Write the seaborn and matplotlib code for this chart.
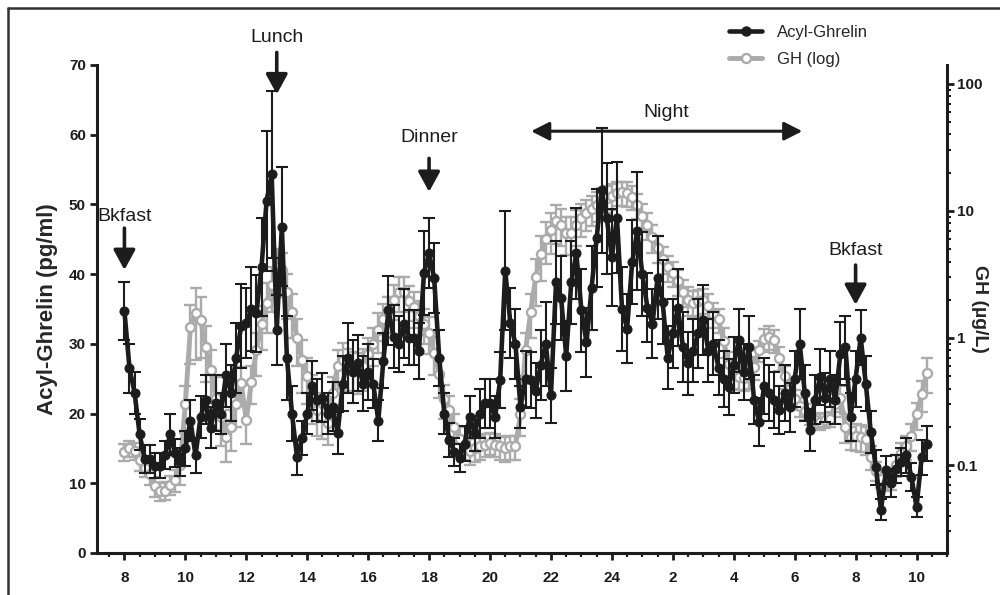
import numpy as np
import pandas as pd
import matplotlib
matplotlib.use("Agg")
import matplotlib.pyplot as plt
import seaborn as sns
from matplotlib.lines import Line2D
from matplotlib.ticker import FixedLocator, MultipleLocator, LogLocator, NullFormatter

# sampling grid: every 10 min from 08:00 (hours since midnight of day 1)
minutes = np.arange(0, 1590, 10)
hours = 8 + minutes / 60

ghrelin = [34.7, 26.5, 23.0, 17.0, 13.5, 13.5, 12.5, 12.5, 14.0, 17.0,
           14.3, 13.0, 15.0, 19.0, 14.0, 19.5, 22.0, 18.0, 21.5, 20.0,
           25.5, 23.0, 28.0, 32.6, 33.0, 35.0, 34.4, 41.0, 50.5, 54.3,
           32.0, 46.8, 28.0, 20.0, 13.7, 16.5, 20.0, 24.0, 22.0, 22.3,
           20.0, 21.0, 17.2, 24.3, 28.0, 26.0, 27.2, 24.3, 26.0, 24.3,
           19.0, 27.6, 34.8, 31.0, 30.0, 32.9, 30.9, 30.9, 29.0, 40.2,
           43.0, 39.4, 28.0, 20.0, 16.2, 14.5, 13.6, 15.7, 19.5, 17.2,
           20.0, 21.5, 21.5, 19.5, 24.8, 40.5, 33.0, 30.0, 21.0, 25.0,
           24.8, 23.3, 27.0, 30.0, 22.6, 38.8, 36.6, 28.3, 38.8, 43.0,
           34.8, 30.2, 38.0, 45.2, 52.0, 48.0, 42.4, 48.1, 35.0, 32.2,
           41.7, 46.2, 40.0, 35.2, 32.9, 39.5, 36.0, 28.0, 31.5, 35.2,
           29.5, 27.2, 29.0, 31.5, 33.4, 29.0, 30.0, 26.6, 25.0, 23.8,
           27.0, 30.5, 26.0, 29.5, 22.0, 18.8, 24.0, 22.9, 22.0, 20.5,
           23.0, 20.9, 25.0, 30.0, 22.9, 17.6, 22.0, 25.2, 22.3, 25.0,
           22.0, 28.6, 29.5, 19.5, 25.0, 30.9, 24.3, 17.3, 12.3, 6.2,
           11.9, 10.0, 12.0, 13.0, 14.0, 10.9, 6.6, 13.7, 15.7]

ghrelin_sem = [4.2, 3.5, 3.0, 2.2, 2.0, 2.0, 1.8, 1.8, 2.0, 3.0,
               2.0, 2.0, 2.5, 3.0, 2.5, 3.0, 3.5, 3.0, 4.0, 3.0,
               4.5, 4.0, 5.0, 6.0, 5.0, 6.0, 5.5, 7.0, 10.0, 12.0,
               5.0, 8.5, 6.0, 4.0, 2.5, 2.5, 3.0, 3.5, 3.0, 3.5,
               3.0, 3.5, 3.0, 4.0, 5.0, 4.5, 4.0, 4.0, 4.0, 3.5,
               3.0, 4.0, 5.0, 4.5, 4.0, 5.0, 4.0, 4.0, 4.0, 6.0,
               5.0, 5.0, 4.0, 3.0, 2.5, 2.0, 2.0, 2.5, 3.0, 2.5,
               3.5, 3.5, 3.5, 3.0, 4.0, 8.5, 5.0, 5.0, 3.0, 4.0,
               4.0, 4.0, 5.0, 6.0, 4.0, 6.0, 6.0, 5.0, 6.0, 6.5,
               6.0, 5.0, 6.0, 7.0, 9.0, 8.0, 7.0, 8.0, 6.0, 5.0,
               6.0, 8.5, 6.0, 5.0, 5.0, 6.0, 6.0, 4.5, 5.0, 5.5,
               5.0, 4.5, 4.5, 5.0, 5.0, 4.5, 4.5, 4.0, 4.0, 4.0,
               4.0, 4.5, 4.0, 4.5, 3.5, 3.5, 4.0, 4.0, 4.0, 3.5,
               4.0, 3.5, 4.0, 5.0, 4.0, 3.0, 3.5, 4.0, 3.5, 4.0,
               3.5, 4.5, 4.5, 3.5, 4.0, 4.0, 4.0, 3.0, 2.5, 1.5,
               2.0, 2.0, 2.0, 2.0, 2.5, 2.0, 1.5, 2.5, 2.5]

gh = [0.127, 0.135, 0.13, 0.109, 0.095, 0.085, 0.068, 0.062, 0.063, 0.07,
      0.076, 0.1, 0.3, 1.22, 1.57, 1.39, 0.85, 0.56, 0.34, 0.24,
      0.166, 0.2, 0.3, 0.44, 0.226, 0.45, 0.8, 1.3, 1.9, 2.6,
      3.62, 3.4, 2.3, 1.6, 1.0, 0.67, 0.5, 0.36, 0.27, 0.24,
      0.214, 0.37, 0.6, 0.67, 0.6, 0.58, 0.56, 0.6, 0.75, 0.9,
      1.16, 1.4, 1.6, 1.99, 2.3, 2.3, 1.95, 1.75, 1.5, 1.3,
      1.1, 0.76, 0.52, 0.33, 0.27, 0.2, 0.16, 0.14, 0.13, 0.135,
      0.14, 0.145, 0.149, 0.145, 0.14, 0.135, 0.14, 0.14, 0.25, 0.8,
      1.6, 3.0, 4.6, 6.0, 7.1, 8.3, 7.8, 6.7, 6.7, 7.7,
      8.8, 9.6, 10.4, 11.2, 12.2, 12.6, 13.2, 13.9, 14.0, 13.8,
      12.9, 11.2, 9.2, 7.8, 6.2, 5.1, 4.2, 3.6, 3.25, 2.8,
      2.3, 2.0, 1.9, 1.95, 1.99, 1.8, 1.55, 1.4, 0.95, 0.62,
      0.52, 0.49, 0.48, 0.5, 0.59, 0.8, 0.98, 1.02, 0.96, 0.7,
      0.5, 0.4, 0.33, 0.29, 0.265, 0.24, 0.226, 0.22, 0.225, 0.23,
      0.3, 0.34, 0.2, 0.166, 0.17, 0.166, 0.16, 0.116, 0.09, 0.078,
      0.072, 0.076, 0.1, 0.125, 0.14, 0.17, 0.25, 0.36, 0.53]

gh_sem = [0.02, 0.02, 0.02, 0.02, 0.015, 0.015, 0.012, 0.01, 0.01, 0.012,
          0.015, 0.03, 0.12, 0.6, 0.9, 0.7, 0.4, 0.25, 0.15, 0.1,
          0.06, 0.07, 0.1, 0.15, 0.08, 0.15, 0.3, 0.5, 0.8, 1.0,
          1.4, 1.3, 0.9, 0.6, 0.4, 0.3, 0.2, 0.15, 0.1, 0.08,
          0.07, 0.12, 0.2, 0.25, 0.22, 0.2, 0.2, 0.22, 0.25, 0.3,
          0.4, 0.45, 0.5, 0.6, 0.7, 0.7, 0.6, 0.55, 0.45, 0.4,
          0.35, 0.25, 0.18, 0.1, 0.08, 0.05, 0.04, 0.03, 0.03, 0.03,
          0.03, 0.03, 0.03, 0.03, 0.03, 0.03, 0.03, 0.03, 0.08, 0.3,
          0.6, 1.2, 1.8, 2.2, 2.5, 2.8, 2.5, 2.2, 2.2, 2.4,
          2.6, 2.7, 2.8, 3.0, 3.0, 3.0, 3.0, 3.0, 3.0, 3.0,
          2.8, 2.5, 2.2, 1.9, 1.5, 1.2, 1.0, 0.85, 0.75, 0.65,
          0.55, 0.5, 0.45, 0.45, 0.45, 0.4, 0.35, 0.3, 0.25, 0.15,
          0.12, 0.1, 0.1, 0.1, 0.12, 0.15, 0.2, 0.22, 0.2, 0.15,
          0.1, 0.08, 0.06, 0.05, 0.04, 0.035, 0.03, 0.03, 0.03, 0.03,
          0.06, 0.08, 0.05, 0.035, 0.04, 0.04, 0.04, 0.025, 0.015, 0.012,
          0.01, 0.012, 0.02, 0.025, 0.03, 0.04, 0.06, 0.1, 0.16]

hour_ticks = [8, 10, 12, 14, 16, 18, 20, 22, 24, 26, 28, 30, 32, 34]
hour_labels = ["8", "10", "12", "14", "16", "18", "20", "22", "24",
               "2", "4", "6", "8", "10"]

BLACK = "#1c1c1c"
GREY = "#ababab"

sns.set_style("ticks")
plt.rcParams['font.family'] = ['Liberation Sans', 'DejaVu Sans']

df_ghr = pd.DataFrame({"time": hours, "value": ghrelin, "sem": ghrelin_sem})
df_gh = pd.DataFrame({"time": hours, "value": gh, "sem": gh_sem})

fig = plt.figure(figsize=(10, 5.95), dpi=100)
ax = fig.add_axes([0.097, 0.0706, 0.85, 0.8202])
ax2 = ax.twinx()

# GH on log axis (drawn underneath)
ax2.set_yscale("log")
ax2.errorbar(df_gh["time"], df_gh["value"], yerr=df_gh["sem"], fmt="none",
             ecolor=GREY, elinewidth=1.7, capsize=4.5, capthick=1.7)
sns.lineplot(data=df_gh, x="time", y="value", ax=ax2, color=GREY, lw=3.5,
             marker="o", markersize=6.5, markerfacecolor="white",
             markeredgecolor=GREY, markeredgewidth=1.7, legend=False)

# Acyl-ghrelin on linear axis (on top)
ax.errorbar(df_ghr["time"], df_ghr["value"], yerr=df_ghr["sem"], fmt="none",
            ecolor=BLACK, elinewidth=1.5, capsize=4.5, capthick=1.5)
sns.lineplot(data=df_ghr, x="time", y="value", ax=ax, color=BLACK, lw=3.3,
             marker="o", markersize=6.5, markeredgecolor=BLACK, legend=False)
ax.set_zorder(ax2.get_zorder() + 1)
ax.patch.set_visible(False)

ax.set_xlim(7.1, 35.0)
ax.set_ylim(0, 70)
ax2.set_ylim(0.0203, 141)

ax.xaxis.set_major_locator(FixedLocator(hour_ticks))
ax.set_xticklabels(hour_labels)
ax.xaxis.set_minor_locator(MultipleLocator(0.5))
ax.yaxis.set_major_locator(MultipleLocator(10))
ax2.yaxis.set_minor_locator(LogLocator(base=10, subs=np.arange(2, 10), numticks=10))
ax2.yaxis.set_minor_formatter(NullFormatter())
ax2.set_yticks([0.1, 1, 10, 100])
ax2.set_yticklabels(["0.1", "1", "10", "100"])

for a in (ax, ax2):
    for s in a.spines.values():
        s.set_linewidth(2.2)
        s.set_color(BLACK)
    a.spines["top"].set_visible(False)
ax.spines["right"].set_visible(False)
ax2.spines["left"].set_visible(False)
ax2.spines["bottom"].set_visible(False)

ax.tick_params(axis="both", which="major", length=5, width=2, colors=BLACK,
               labelsize=11, pad=3)
ax.tick_params(axis="x", which="minor", length=3, width=1.6, colors=BLACK)
ax.tick_params(axis="x", which="major", pad=8)
ax2.tick_params(axis="y", which="major", length=5, width=2, colors=BLACK,
                labelsize=11, pad=2)
ax2.tick_params(axis="y", which="minor", length=3, width=1.5, colors=BLACK)
for lab in ax.get_xticklabels() + ax.get_yticklabels() + ax2.get_yticklabels():
    lab.set_fontweight("bold")

ax.set_xlabel("")
ax.set_ylabel("Acyl-Ghrelin (pg/ml)", fontsize=16, fontweight="bold", labelpad=8)
ax2.set_ylabel("GH (\u00b5g/L)", fontsize=14, fontweight="bold", rotation=270,
               labelpad=4, va="top")

# meal / night annotations
arrow = dict(arrowstyle="-|>,head_length=0.55,head_width=0.3", lw=2.6,
             color=BLACK, mutation_scale=22, shrinkA=0, shrinkB=0)
meals = [("Bkfast", 8.0, 48.3, 46.6, 40.6),
         ("Lunch", 13.0, 73.9, 71.8, 65.8),
         ("Dinner", 18.0, 59.6, 56.6, 51.8),
         ("Bkfast", 32.0, 43.4, 41.3, 35.6)]
for name, t, ytxt, y0, y1 in meals:
    ax.text(t, ytxt, name, ha="center", va="center", fontsize=14, color=BLACK,
            clip_on=False)
    ax.annotate("", xy=(t, y1), xytext=(t, y0), arrowprops=arrow,
                annotation_clip=False)
ax.text(25.8, 63.2, "Night", ha="center", va="center", fontsize=14, color=BLACK)
ax.annotate("", xy=(21.35, 60.5), xytext=(30.25, 60.5),
            arrowprops=dict(arrowstyle="<|-|>,head_length=0.55,head_width=0.28",
                            lw=2.2, color=BLACK, mutation_scale=20,
                            shrinkA=0, shrinkB=0))

handles = [Line2D([], [], color=BLACK, lw=3.3, marker="o", markersize=6.5),
           Line2D([], [], color=GREY, lw=3.5, marker="o", markersize=6.5,
                  markerfacecolor="white", markeredgewidth=1.7)]
fig.legend(handles, ["Acyl-Ghrelin", "GH (log)"], loc="upper left",
           bbox_to_anchor=(0.714, 0.984), frameon=False, fontsize=12,
           handlelength=2.0, handletextpad=0.9, labelspacing=0.75)

# outer frame of the panel
fig.add_artist(Line2D([0.008, 0.008], [0.0, 0.987], color="#333333", lw=1.8,
                      transform=fig.transFigure))
fig.add_artist(Line2D([0.008, 1.0], [0.987, 0.987], color="#333333", lw=1.8,
                      transform=fig.transFigure))

fig.savefig("out.png", dpi=100)
